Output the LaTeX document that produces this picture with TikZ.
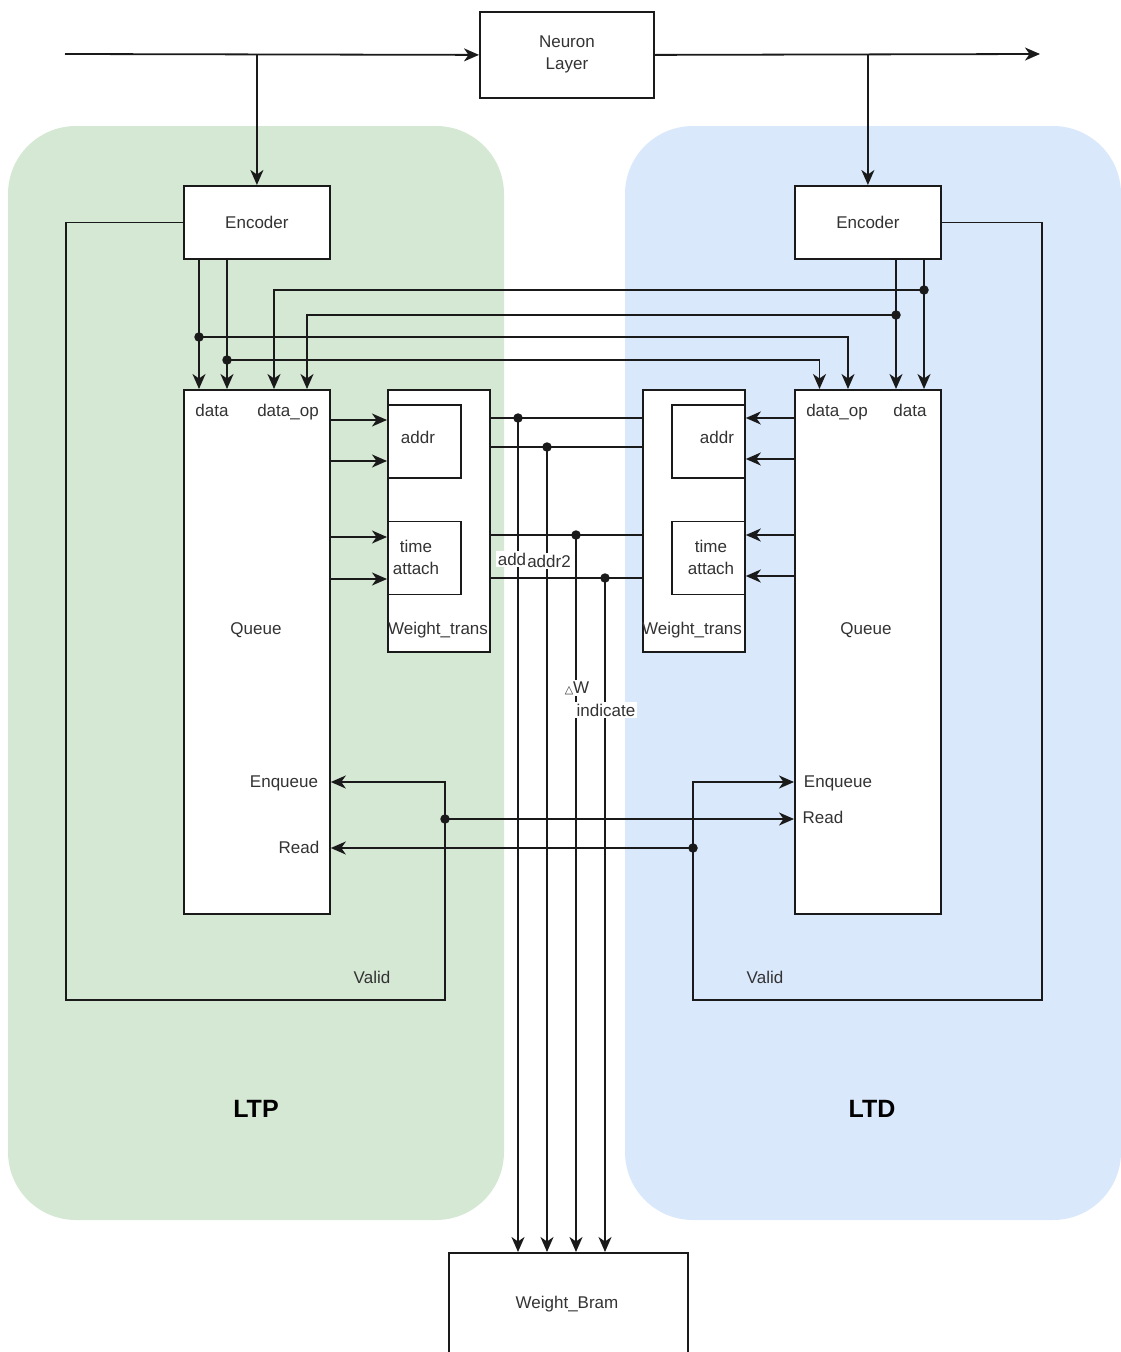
\documentclass[tikz,border=0pt]{standalone}
\usepackage{fontspec}
\setmainfont{Liberation Sans}
\newfontfamily\symfont{DejaVu Sans}
\usetikzlibrary{arrows.meta,calc}
\definecolor{ltpfill}{HTML}{D5E8D4}
\definecolor{ltdfill}{HTML}{DAE8FC}
\definecolor{ink}{HTML}{1A1A1A}
\definecolor{txt}{HTML}{333333}
\begin{document}
\begin{tikzpicture}[x=1pt,y=-1pt,line width=1.8pt,draw=ink,
  arr/.style={draw=ink,line width=1.8pt,-{Stealth[length=15pt,width=13pt,inset=4.5pt]}},
  wire/.style={draw=ink,line width=1.8pt},
  blk/.style={draw=ink,fill=white,line width=1.8pt,inner sep=0,anchor=north west,
    text=txt,font=\fontsize{17}{22}\selectfont,align=center},
  lab/.style={inner sep=0,anchor=base,text=txt,font=\fontsize{17}{22}\selectfont,align=center},
  tag/.style={lab,fill=white,inner sep=1.5pt},
  big/.style={inner sep=0,anchor=base,text=black,font=\fontsize{25}{30}\selectfont\bfseries},
  jdot/.style={circle,fill=ink,inner sep=0,minimum size=9.5pt}]
\useasboundingbox (0,0) rectangle (1120,1352);

% LTP / LTD regions
\fill[ltpfill,rounded corners=68pt] (8,126) rectangle (504,1220);
\fill[ltdfill,rounded corners=68pt] (625,126) rectangle (1121,1220);

% blocks
\node[blk,minimum width=174,minimum height=86] (nl) at (479,11) {Neuron\\Layer};
\node[blk,minimum width=146,minimum height=73] (encL) at (183,185) {Encoder};
\node[blk,minimum width=146,minimum height=73] (encR) at (794,185) {Encoder};
\node[blk,minimum width=146,minimum height=524] (qL) at (183,389) {};
\node[blk,minimum width=146,minimum height=524] (qR) at (794,389) {};
\node[blk,minimum width=102,minimum height=262] (wtL) at (387,389) {};
\node[blk,minimum width=73,minimum height=73] (adL) at (387,404) {};
\node[blk,minimum width=73,minimum height=73] (taL) at (387,520.5) {};
\node[blk,minimum width=102,minimum height=262] (wtR) at (642,389) {};
\node[blk,minimum width=73,minimum height=73] (adR) at (671,404) {};
\node[blk,minimum width=73,minimum height=73] (taR) at (671,520.5) {};
\node[blk,minimum width=239,minimum height=110] (bram) at (448,1252) {};

% input / output of the neuron layer
\coordinate (inL) at (65,54);
\coordinate (outR) at (1040,54);
\draw[arr] (inL) -- (nl.west);
\draw[arr] (nl.east) -- (outR);
\draw[arr] (inL -| encL.north) -- (encL.north);
\draw[arr] (outR -| encR.north) -- (encR.north);

% encoder outputs and cross links
\coordinate (jA) at (199,337);
\coordinate (jB) at (227,360);
\coordinate (jC) at (924,290);
\coordinate (jD) at (896,315);
\draw[arr] (encL.south -| jA) -- (qL.north -| jA);
\draw[arr] (encL.south -| jB) -- (qL.north -| jB);
\draw[arr] (encR.south -| jD) -- (qR.north -| jD);
\draw[arr] (encR.south -| jC) -- (qR.north -| jC);
\draw[arr] (jA) -| ($(qR.north west)+(54,0)$);
\draw[arr] (jB) -| ($(qR.north west)+(25.5,0)$);
\draw[arr] (jC) -| ($(qL.north west)+(91,0)$);
\draw[arr] (jD) -| ($(qL.north west)+(124,0)$);

% queue to weight_trans
\foreach \y in {420,461,537,579}
  \draw[arr] (qL.east |- 0,\y) -- (wtL.west |- 0,\y);
\foreach \y in {418,459,535,576}
  \draw[arr] (qR.west |- 0,\y) -- (wtR.east |- 0,\y);

% weight_trans buses down to the BRAM
\foreach \y/\x in {418/518,447/547,535/576,578/605}{
  \draw[wire] (wtL.east |- 0,\y) -- (wtR.west |- 0,\y);
  \draw[arr] (\x,\y) -- (bram.north -| \x,0);
  \node[jdot] at (\x,\y) {};
}

% valid loops
\coordinate (vL) at (445,782);
\coordinate (vR) at (693,782);
\coordinate (rdL) at (445,819);
\coordinate (rdR) at (693,848);
\draw[arr] (encL.west) -| (66,1000) -| (vL) -- (vL -| qL.east);
\draw[arr] (encR.east) -| (1042,1000) -| (vR) -- (vR -| qR.west);
\draw[arr] (rdL) -- (rdL -| qR.west);
\draw[arr] (rdR) -- (rdR -| qL.east);

% junction dots
\foreach \p in {jA,jB,jC,jD,rdL,rdR} \node[jdot] at (\p) {};

% texts
\node[lab] at (212,416) {data};
\node[lab] at (288,416) {data\_op};
\node[lab] at (837,416) {data\_op};
\node[lab] at (910,416) {data};
\node[lab] at (256,634) {Queue};
\node[lab] at (866,634) {Queue};
\node[lab] at (284,787) {Enqueue};
\node[lab] at (299,853) {Read};
\node[lab] at (838,787) {Enqueue};
\node[lab] at (823,823) {Read};
\node[lab] at (418,443) {addr};
\node[lab] at (717,443) {addr};
\node[lab,anchor=center] at (416,557) {time\\attach};
\node[lab,anchor=center] at (711,557) {time\\attach};
\node[lab] at (438,634) {Weight\_trans};
\node[lab] at (692,634) {Weight\_trans};
\node[lab] at (372,983) {Valid};
\node[lab] at (765,983) {Valid};
\node[lab] at (567,1308) {Weight\_Bram};
\node[big] at (256,1117) {LTP};
\node[big] at (872,1117) {LTD};

% bus labels
\node[tag] at (512,565) {add};
\node[tag] at (549,567) {addr2};
\node[tag] at (577,693) {{\symfont\fontsize{11}{11}\selectfont △}W};
\node[tag] at (606,716) {indicate};
\end{tikzpicture}
\end{document}
